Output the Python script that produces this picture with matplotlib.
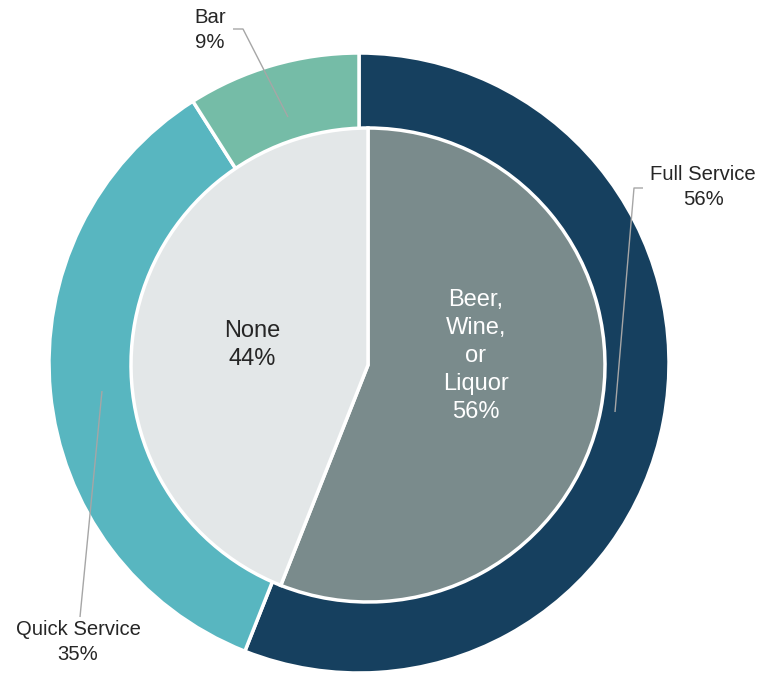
import matplotlib
matplotlib.use('Agg')
import matplotlib.pyplot as plt

plt.rcParams['font.family'] = ['Liberation Sans', 'DejaVu Sans']

# restaurant type (outer ring)
service_labels = ['Full Service', 'Quick Service', 'Bar']
service_share = [56, 35, 9]
service_colors = ['#16405f', '#58b6c0', '#75bca7']

# alcohol served (inner pie)
alcohol_labels = ['Beer,\nWine,\nor\nLiquor', 'None']
alcohol_share = [56, 44]
alcohol_colors = ['#7a8b8c', '#e3e7e8']

W, H = 761, 676
fig = plt.figure(figsize=(W / 100, H / 100), dpi=100)
ax = fig.add_axes([0, 0, 1, 1])


def py(y):
    # pixel row -> data y
    return H - y


ax.pie(service_share, colors=service_colors, startangle=90, counterclock=False,
       center=(359, py(363)), radius=310,
       wedgeprops=dict(edgecolor='white', linewidth=2.5))
ax.pie(alcohol_share, colors=alcohol_colors, startangle=90, counterclock=False,
       center=(368, py(365)), radius=237,
       wedgeprops=dict(edgecolor='white', linewidth=2.5))

ax.set_xlim(0, W)
ax.set_ylim(0, H)
ax.set_aspect('equal')
ax.axis('off')

# inner labels
ax.text(476, py(356), f'{alcohol_labels[0]}\n{alcohol_share[0]}%', color='white',
        fontsize=17, ha='center', va='center', linespacing=1.34)
ax.text(252, py(345), f'{alcohol_labels[1]}\n{alcohol_share[1]}%', color='#262626',
        fontsize=17, ha='center', va='center', linespacing=1.34)

# outer labels with leader lines
line_kw = dict(color='#a6a6a6', lw=1, solid_capstyle='butt')
ax.plot([233, 243, 288], [py(29), py(29), py(117)], **line_kw)
ax.plot([643, 634, 615], [py(188), py(188), py(412)], **line_kw)
ax.plot([80, 102], [py(617), py(391)], **line_kw)

txt_kw = dict(color='#262626', fontsize=14.6, ha='center', va='center', linespacing=1.45)
ax.text(703, py(187), f'{service_labels[0]}\n{service_share[0]}%', **txt_kw)
ax.text(78, py(642), f'{service_labels[1]}\n{service_share[1]}%', **txt_kw)
ax.text(210, py(30), f'{service_labels[2]}\n{service_share[2]}%', **txt_kw)

fig.savefig('out.png', dpi=100)
